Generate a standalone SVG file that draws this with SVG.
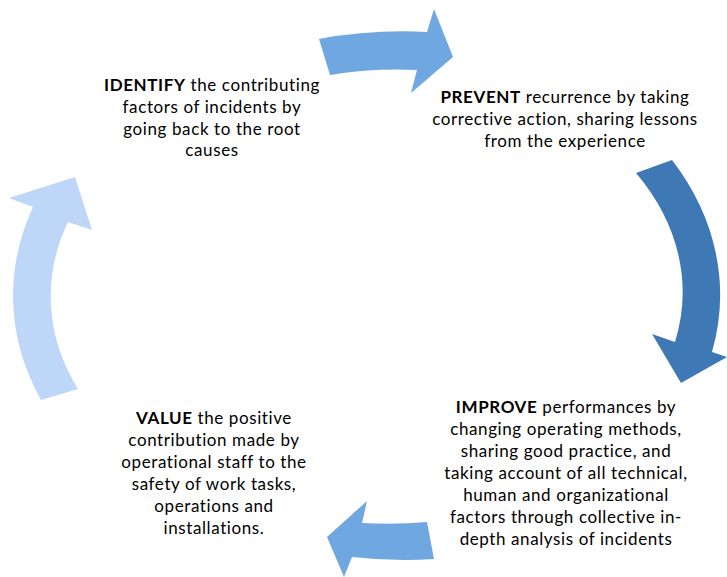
<svg xmlns="http://www.w3.org/2000/svg" width="727" height="577" viewBox="0 0 727 577">
<style>
text{font-family:Lato,"Liberation Sans",sans-serif;font-size:17px;letter-spacing:0.6px;fill:#000;text-anchor:middle}
.b{font-weight:bold}
</style>
<rect width="727" height="577" fill="#fff"/>
<g id="connectors">
<path id="arrow-top" fill="#6fa7e0" d="M330,75 L319,39 A354,268 0 0 1 427,32 L434,9 L453,57 L411,93 L417,70 A316,228 0 0 0 330,75 Z"/>
<path id="arrow-right" fill="#3e79b5" d="M636,173 L672,160 A354,268 0 0 1 712,352 L727,357 L681,383 L652,334 L675,342 A316,228 0 0 0 636,173 Z"/>
<path id="arrow-bottom" fill="#6fa7e0" d="M427,522 L434,559 A354,268 0 0 1 352,557 L344,577 L327,537 L367,501 L362,523 A316,228 0 0 0 427,522 Z"/>
<path id="arrow-left" fill="#bed7f8" d="M78,389 L41,400 A354,268 0 0 1 33,207 L9,198 L75,177 L92,230 L68,222 A316,228 0 0 0 78,389 Z"/>
</g>
<g id="identify">
<text x="212" y="91"><tspan class="b">IDENTIFY</tspan> the contributing</text>
<text x="212" y="113">factors of incidents by</text>
<text x="212" y="134.5">going back to the root</text>
<text x="212" y="156">causes</text>
</g>
<g id="prevent">
<text x="565" y="103"><tspan class="b">PREVENT</tspan> recurrence by taking</text>
<text x="565" y="125">corrective action, sharing lessons</text>
<text x="565" y="147">from the experience</text>
</g>
<g id="improve">
<text x="566" y="413"><tspan class="b">IMPROVE</tspan> performances by</text>
<text x="566" y="435">changing operating methods,</text>
<text x="566" y="457">sharing good practice, and</text>
<text x="566" y="479">taking account of all technical,</text>
<text x="566" y="501">human and organizational</text>
<text x="566" y="523">factors through collective in-</text>
<text x="566" y="545">depth analysis of incidents</text>
</g>
<g id="value">
<text x="214" y="424"><tspan class="b">VALUE</tspan> the positive</text>
<text x="214" y="446">contribution made by</text>
<text x="214" y="468">operational staff to the</text>
<text x="214" y="490">safety of work tasks,</text>
<text x="214" y="512">operations and</text>
<text x="214" y="534">installations.</text>
</g>
</svg>
